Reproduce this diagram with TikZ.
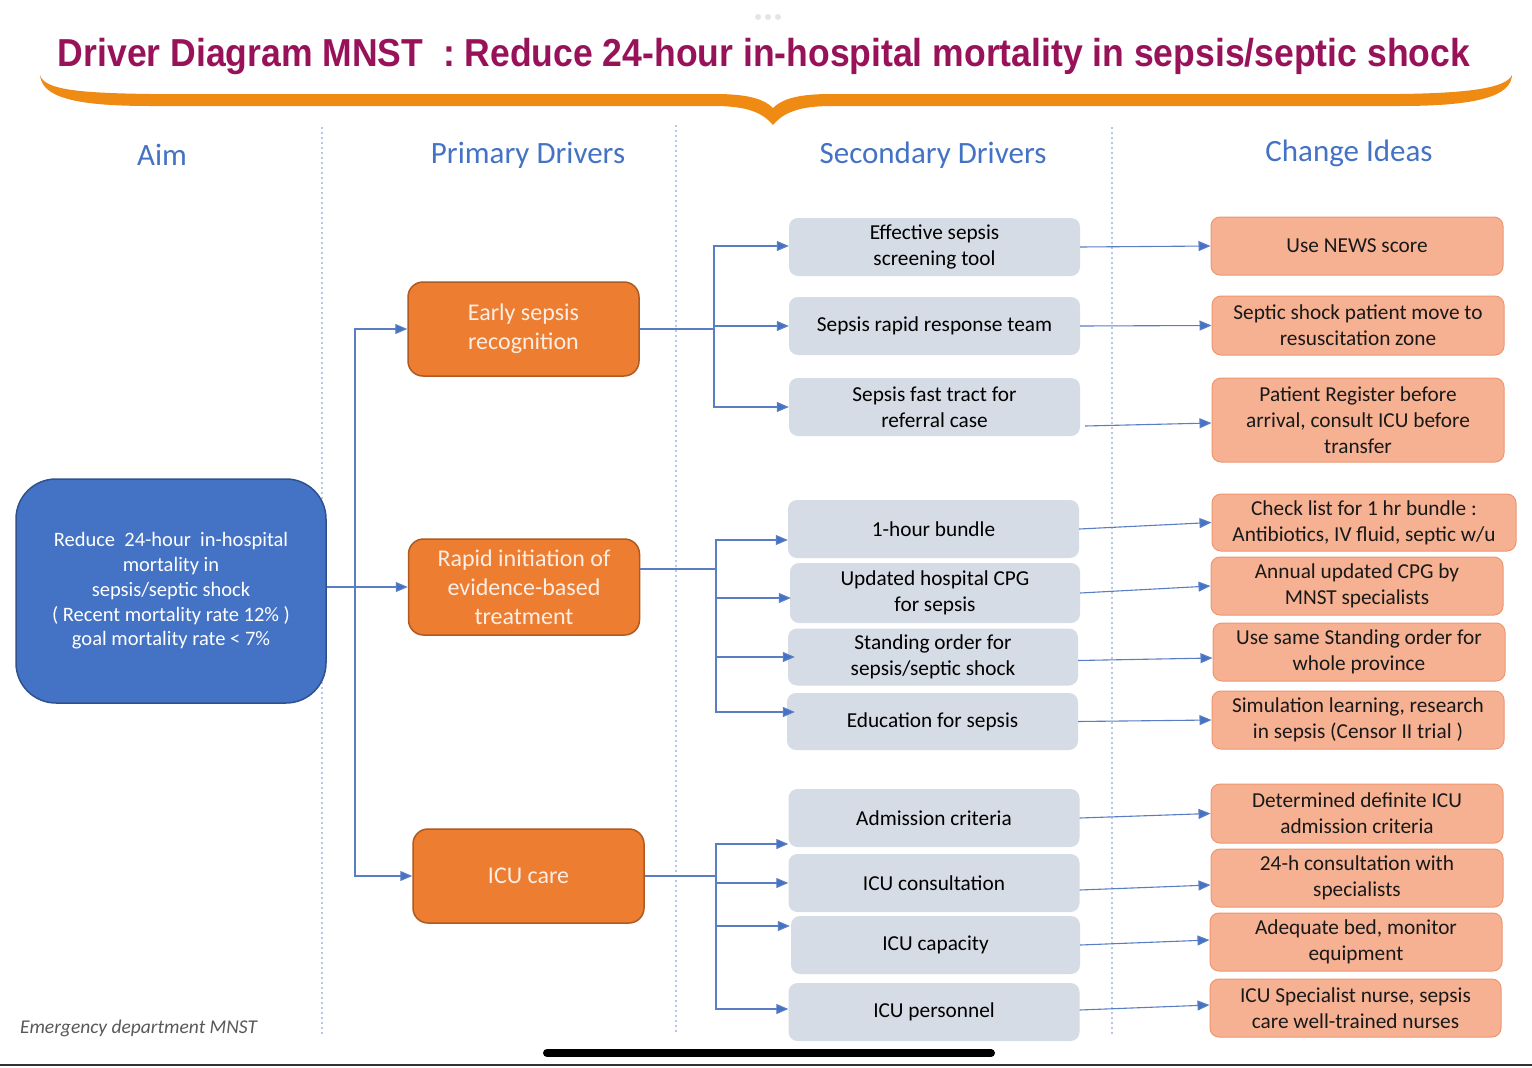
\documentclass[tikz,border=0pt]{standalone}
\usepackage{fontspec}
\setmainfont{Carlito}
\newfontfamily\titlefont{Liberation Sans}
\usetikzlibrary{arrows.meta,calc}
\definecolor{titlec}{HTML}{98125A}
\definecolor{bracec}{HTML}{EF8A12}
\definecolor{hdrc}{HTML}{4472C4}
\definecolor{aimfill}{HTML}{4472C4}
\definecolor{aimdraw}{HTML}{2F528F}
\definecolor{prifill}{HTML}{ED7D31}
\definecolor{pridraw}{HTML}{AE5A21}
\definecolor{pritext}{HTML}{FCEEE4}
\definecolor{secfill}{HTML}{D6DCE5}
\definecolor{chgfill}{HTML}{F6B192}
\definecolor{chgdraw}{HTML}{EF9670}
\definecolor{connc}{HTML}{5A7EC4}
\definecolor{tipc}{HTML}{4472C4}
\definecolor{divc}{HTML}{B4C7E7}
\definecolor{footc}{HTML}{595959}
\begin{document}
\begin{tikzpicture}[x=1pt,y=-1pt,
  aimbox/.style={draw=aimdraw,line width=1.5pt,fill=aimfill,rounded corners=40pt,
    minimum width=310pt,minimum height=224pt,inner sep=0pt,align=center,text=white,
    font=\fontsize{20.5}{24.7}\selectfont},
  pribox/.style={draw=pridraw,line width=1.5pt,fill=prifill,rounded corners=15pt,
    minimum width=231pt,minimum height=94pt,inner sep=0pt,align=center,text=pritext,
    font=\fontsize{24}{29}\selectfont},
  secbox/.style={fill=secfill,rounded corners=9pt,minimum width=291pt,minimum height=58pt,
    inner sep=0pt,align=center,text=black,font=\fontsize{21.3}{26}\selectfont},
  chgbox/.style={draw=chgdraw,line width=1pt,fill=chgfill,rounded corners=9pt,minimum width=292pt,
    minimum height=58pt,inner sep=0pt,align=center,text=black!90,font=\fontsize{21.3}{26}\selectfont},
  hdr/.style={text=hdrc,font=\fontsize{31}{36}\selectfont,inner sep=0pt},
  conn/.style={draw=connc,line width=1.1pt,-{Triangle[length=12pt,width=10pt,fill=tipc]}},
  plain/.style={draw=connc,line width=1.1pt},
  divider/.style={draw=divc,line width=2pt,dash pattern=on 2pt off 3pt}]
\useasboundingbox (0,0) rectangle (1532,1068);
\fill[white] (0,0) rectangle (1532,1068);

% top faint dots
\foreach \xx in {758,768,778} \fill[black!10] (\xx,17) circle (3pt);

% title
\node[anchor=base,inner sep=0pt,text=titlec] (title) at (764,66)
  {\resizebox{1412pt}{\height}{\titlefont\bfseries\fontsize{39}{44}\selectfont Driver Diagram MNST\ \ : Reduce 24-hour in-hospital mortality in sepsis/septic shock}};

% brace
\fill[bracec] (40,75) .. controls (44,90) and (80,93) .. (150,94) -- (715,94)
  .. controls (748,94) and (764,99) .. (773,108)
  .. controls (782,99) and (798,94) .. (831,94) -- (1400,94)
  .. controls (1470,93) and (1506,88) .. (1512,75)
  .. controls (1511,96) and (1478,106) .. (1400,106) -- (832,106)
  .. controls (800,106) and (784,112) .. (773,125)
  .. controls (762,112) and (746,106) .. (714,106) -- (150,106)
  .. controls (70,106) and (42,96) .. (40,75) -- cycle;

% dividers
\draw[divider] (322,127) -- (322,1035);
\draw[divider] (676,125) -- (676,1032);
\draw[divider] (1112,127) -- (1112,1035);

% headers
\node[hdr] (h1) at (162,155) {Aim};
\node[hdr] (h2) at (528,155) {Primary Drivers};
\node[hdr] (h3) at (933,155) {Secondary Drivers};
\node[hdr] (h4) at (1349,153) {Change Ideas};

% aim
\node[aimbox] (aim) at (171,591) {Reduce\ \ 24-hour\ \ in-hospital\\mortality in\\sepsis/septic shock\\( Recent mortality rate 12\% )\\goal mortality rate < 7\%};

% primary drivers
\node[pribox] (p1) at (523.5,329) {Early sepsis\\recognition};
\node[pribox,minimum height=96pt] (p2) at (524,587) {Rapid initiation of\\evidence-based\\treatment};
\node[pribox] (p3) at (528.5,876) {ICU care};

% secondary drivers
\node[secbox] (s1) at (934.5,247) {Effective sepsis\\screening tool};
\node[secbox] (s2) at (934.5,326) {Sepsis rapid response team};
\node[secbox] (s3) at (934.5,407) {Sepsis fast tract for\\referral case};
\node[secbox] (s4) at (933.5,529) {1-hour bundle};
\node[secbox,minimum width=290pt,minimum height=60pt] (s5) at (935,593) {Updated hospital CPG\\for sepsis};
\node[secbox,minimum width=290pt,minimum height=57pt] (s6) at (933,657) {Standing order for\\sepsis/septic shock};
\node[secbox,minimum height=57pt] (s7) at (932.5,721.5) {Education for sepsis};
\node[secbox] (s8) at (934,818) {Admission criteria};
\node[secbox] (s9) at (934,883) {ICU consultation};
\node[secbox,minimum width=289pt] (s10) at (935.5,945) {ICU capacity};
\node[secbox] (s11) at (934,1012) {ICU personnel};

% change ideas
\node[chgbox] (c1) at (1357,246) {Use NEWS score};
\node[chgbox,minimum height=59pt] (c2) at (1358,325.5) {Septic shock patient move to\\resuscitation zone};
\node[chgbox,minimum height=84pt] (c3) at (1358,420) {Patient Register before\\arrival, consult ICU before\\transfer};
\node[chgbox,minimum width=304pt,minimum height=57pt] (c4) at (1364,522.5) {Check list for 1 hr bundle :\\Antibiotics, IV fluid, septic w/u};
\node[chgbox] (c5) at (1357,586) {Annual updated CPG by\\MNST specialists};
\node[chgbox] (c6) at (1359,652) {Use same Standing order for\\whole province};
\node[chgbox] (c7) at (1358,720) {Simulation learning, research\\in sepsis (Censor II trial )};
\node[chgbox,minimum height=59pt] (c8) at (1357,813.5) {Determined definite ICU\\admission criteria};
\node[chgbox] (c9) at (1357,878) {24-h consultation with\\specialists};
\node[chgbox] (c10) at (1356,942) {Adequate bed, monitor\\equipment};
\node[chgbox,minimum width=291pt] (c11) at (1355.5,1008) {ICU Specialist nurse, sepsis\\care well-trained nurses};

% aim -> primary
\coordinate (t1) at (355,587);
\draw[conn] (aim.east |- p2.west) -- (p2.west);
\draw[conn] (t1) |- (p1.west);
\draw[conn] (t1) |- (p3.west);

% primary 1 -> secondary
\coordinate (b1) at (714,329);
\draw[plain] (p1.east) -- (b1);
\draw[conn] (b1) |- ([yshift=1pt]s1.west);
\draw[conn] (b1) |- (s2.west);
\draw[conn] (b1) |- (s3.west);

% primary 2 -> secondary
\coordinate (b2) at (716,569);
\draw[plain] ([yshift=18pt]p2.east) -- (b2);
\draw[conn] (b2) |- ([yshift=-11pt]s4.west);
\draw[conn] (b2) |- ([yshift=-5pt,xshift=1pt]s5.west);
\draw[conn] (b2) |- ([xshift=7pt]s6.west);
\draw[conn] (b2) |- ([yshift=9.5pt,xshift=8pt]s7.west);

% primary 3 -> secondary
\coordinate (b3) at (716,876);
\draw[plain] (p3.east) -- (b3);
\draw[conn] (b3) |- ([yshift=-26pt]s8.west);
\draw[conn] (b3) |- (s9.west);
\draw[conn] (b3) |- ([yshift=19pt,xshift=-1pt]s10.west);
\draw[conn] (b3) |- ([yshift=3pt]s11.west);

% secondary -> change ideas
\draw[conn] (s1.east) -- (c1.west);
\draw[conn] (s2.east) -- (c2.west);
\draw[conn] ([yshift=-19pt,xshift=5pt]s3.east) -- ([yshift=-3pt]c3.west);
\draw[conn] (s4.east) -- (c4.west);
\draw[conn] (s5.east) -- (c5.west);
\draw[conn] ([yshift=-3.5pt]s6.east) -- ([yshift=-6pt]c6.west);
\draw[conn] (s7.east) -- (c7.west);
\draw[conn] (s8.east) -- (c8.west);
\draw[conn] ([yshift=-7pt]s9.east) -- ([yshift=-7pt]c9.west);
\draw[conn] (s10.east) -- ([yshift=2pt]c10.west);
\draw[conn] ([yshift=2pt]s11.east) -- ([yshift=3pt]c11.west);

% footer
\node[anchor=base west,inner sep=0pt,text=footc,font=\fontsize{19.5}{24}\selectfont\itshape] (foot) at (20,1033) {Emergency department MNST};

% screenshot artefacts
\draw[line width=8pt,line cap=round] (547,1053) -- (991,1053);
\draw[line width=2pt,black!80] (0,1065) -- (1532,1065);
\end{tikzpicture}
\end{document}
